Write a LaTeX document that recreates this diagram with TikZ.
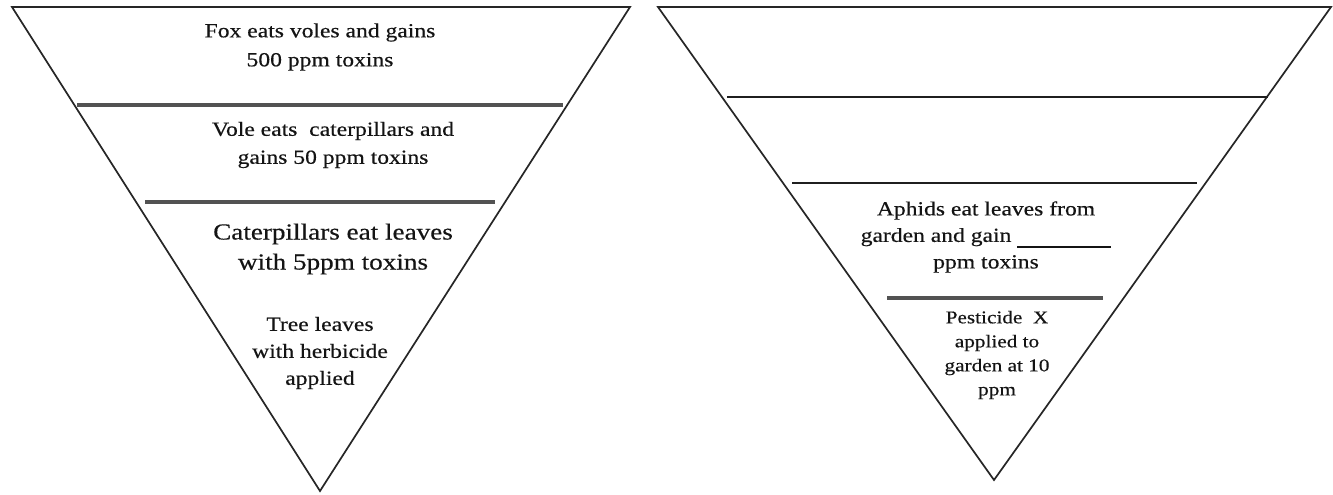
\documentclass[tikz,border=0pt]{standalone}
\usepackage{fontspec}
\setmainfont[FakeStretch=1.18,FakeBold=0.4]{Liberation Serif}
\begin{document}
\begin{tikzpicture}[x=0.5pt,y=-0.5pt,
  tri/.style={draw=black!85,line width=0.85pt,line join=miter},
  divthick/.style={draw=black!68,line width=1.6pt},
  divthin/.style={draw=black!88,line width=1.1pt},
  lbl/.style={align=center,inner sep=0pt,text=black!92}]
\useasboundingbox (0,0) rectangle (1333,494);
\fill[white] (0,0) rectangle (1333,494);
% left pyramid
\coordinate (LA) at (12,7);
\coordinate (LB) at (630,7);
\coordinate (LC) at (320,491);
\draw[tri] (LA) -- (LB) -- (LC) -- cycle;
\coordinate (L1a) at (77,105);
\coordinate (L1b) at (563,105);
\coordinate (L2a) at (145,202);
\coordinate (L2b) at (495,202);
\draw[divthick] (L1a) -- (L1b);
\draw[divthick] (L2a) -- (L2b);
\node[lbl,font=\fontsize{10}{14.5}\selectfont] (fox) at (320,47) {Fox eats voles and gains\\500 ppm toxins};
\node[lbl,font=\fontsize{10}{14}\selectfont] (vole) at (333,145) {Vole eats\ \ caterpillars and\\gains 50 ppm toxins};
\node[lbl,font=\fontsize{11.5}{15}\selectfont] (cat) at (333,249) {Caterpillars eat leaves\\with 5ppm toxins};
\node[lbl,font=\fontsize{10}{13.5}\selectfont] (tree) at (320,353) {Tree leaves\\with herbicide\\applied};
% right pyramid
\coordinate (RA) at (658,7);
\coordinate (RB) at (1331,7);
\coordinate (RC) at (994,480);
\draw[tri] (RA) -- (RB) -- (RC) -- cycle;
\coordinate (R1a) at (727,97);
\coordinate (R1b) at (1268,97);
\coordinate (R2a) at (792,183);
\coordinate (R2b) at (1197,183);
\coordinate (R3a) at (887,298);
\coordinate (R3b) at (1103,298);
\draw[divthin] (R1a) -- (R1b);
\draw[divthin] (R2a) -- (R2b);
\draw[divthick] (R3a) -- (R3b);
\node[lbl,font=\fontsize{10}{13.25}\selectfont] (aphid) at (986,237) {Aphids eat leaves from\\garden and gain \rule[-3pt]{47pt}{1pt}\\ppm toxins};
\node[lbl,font=\fontsize{9}{12}\selectfont] (pest) at (997,355) {Pesticide\ \ X\\applied to\\garden at 10\\ppm};
\end{tikzpicture}
\end{document}
